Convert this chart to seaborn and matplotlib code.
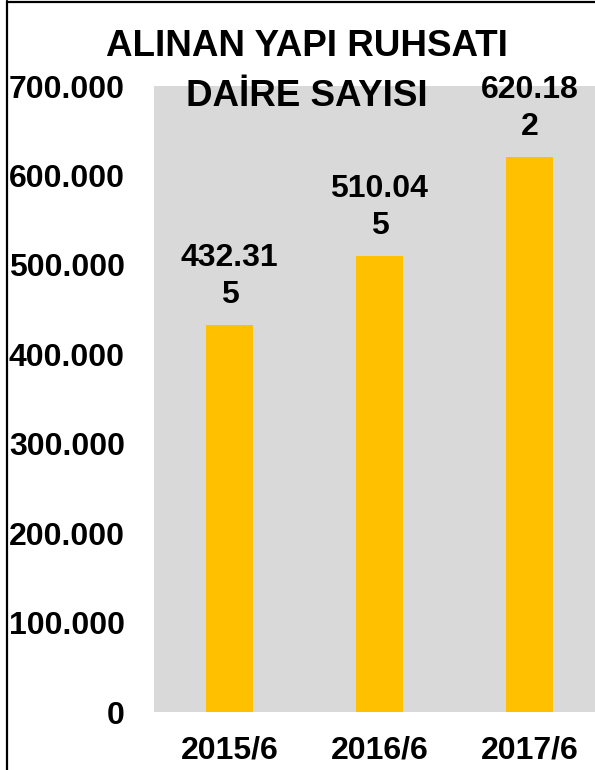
import matplotlib
matplotlib.use("Agg")
import matplotlib.pyplot as plt
import matplotlib.ticker as mticker
from matplotlib.lines import Line2D
import seaborn as sns
import pandas as pd

# Data
categories = ["2015/6", "2016/6", "2017/6"]
values = [432315, 510045, 620182]
title_lines = ["ALINAN YAPI RUHSATI", "DAİRE SAYISI"]
y_ticks = [0, 100000, 200000, 300000, 400000, 500000, 600000, 700000]

sns.set_theme(style="white")
plt.rcParams["font.family"] = ["Liberation Sans", "DejaVu Sans"]
plt.rcParams["font.weight"] = "bold"

W, H = 595, 770
fig = plt.figure(figsize=(W / 100, H / 100), dpi=100)
fig.patch.set_facecolor("white")

ax = fig.add_axes([154 / W, (H - 712) / H, (W - 154) / W, (712 - 86) / H])
ax.set_facecolor("#D9D9D9")

df = pd.DataFrame({"cat": categories, "val": values})
sns.barplot(data=df, x="cat", y="val", color="#FFC000", saturation=1,
            width=0.313, ax=ax, edgecolor="none")

ax.set_xlim(-0.503, 2.437)
ax.set_ylim(0, 700000)
ax.set_yticks(y_ticks)
ax.yaxis.set_major_formatter(mticker.FuncFormatter(
    lambda v, p: f"{int(v):,}".replace(",", ".")))
ax.set_xlabel("")
ax.set_ylabel("")
for s in ax.spines.values():
    s.set_visible(False)
ax.tick_params(axis="y", length=0, pad=21, labelsize=23)
ax.tick_params(axis="x", length=0, pad=17, labelsize=23)
for lab in ax.get_xticklabels() + ax.get_yticklabels():
    lab.set_fontweight("bold")
    lab.set_color("black")

# Data labels (wrapped as in the reference)
for i, v in enumerate(values):
    s = f"{v:,}".replace(",", ".")
    txt = s[:-1] + "\n" + s[-1]
    ax.annotate(txt, xy=(i, v), xytext=(0, 11), textcoords="offset points",
                ha="center", va="bottom", fontsize=23, fontweight="bold",
                color="black", linespacing=1.3)

# Title
fig.text(307 / W, 1 - 46 / H, title_lines[0], ha="center", va="center",
         fontsize=26.5, fontweight="bold", color="black")
fig.text(307 / W, 1 - 97 / H, title_lines[1], ha="center", va="center",
         fontsize=26.5, fontweight="bold", color="black")

# Border lines (left and top)
fig.add_artist(Line2D([7 / W, 7 / W], [0, 1 - 1 / H], transform=fig.transFigure,
                      color="black", linewidth=1.6))
fig.add_artist(Line2D([7 / W, 1], [1 - 1.5 / H, 1 - 1.5 / H], transform=fig.transFigure,
                      color="black", linewidth=1.6))

fig.savefig("out.png", dpi=100)
